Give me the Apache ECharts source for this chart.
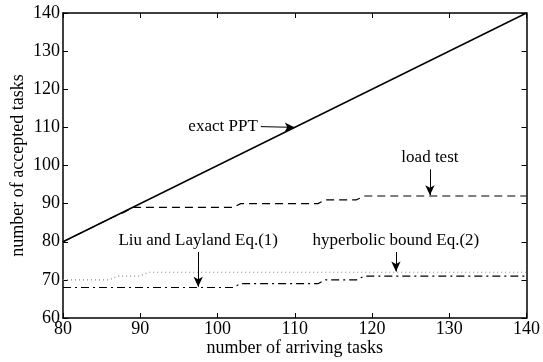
<!DOCTYPE html>
<html>
<head>
<meta charset="utf-8">
<script src="https://cdn.jsdelivr.net/npm/echarts@6/dist/echarts.min.js"></script>
<style>
  html, body { margin: 0; padding: 0; background: #fff; }
  #chart { width: 543px; height: 362px; }
</style>
</head>
<body>
<div id="chart"></div>
<script>
// values (breakpoints of each curve)
const exactX = [80, 140];
const exactY = [80, 140];
const loadX = [80, 87, 88, 89, 102, 103, 113, 114, 118, 119, 140];
const loadY = [80, 87, 87.8, 89, 89, 90, 90, 91, 91, 92, 92];
const hypX = [80, 86, 87, 90, 91, 140];
const hypY = [70, 70, 71, 71, 72, 72];
const liuX = [80, 102, 103, 113, 114, 118, 119, 140];
const liuY = [68, 68, 69, 69, 70, 70, 71, 71];
const xTicks = [80, 90, 100, 110, 120, 130, 140];
const yTicks = [60, 70, 80, 90, 100, 110, 120, 130, 140];

// annotation arrows: [label, fromX, fromY, toX, toY]
const notes = [
  ['exact PPT', 105.6, 110.2, 110, 110],
  ['load test', 127.5, 99.0, 127.5, 92.2],
  ['Liu and Layland Eq.(1)', 97.5, 77.3, 97.5, 68.2],
  ['hyperbolic bound Eq.(2)', 123.1, 77.3, 123.1, 72.2]
];

const font = 'Liberation Serif';
const zip = (xs, ys) => xs.map((x, i) => [x, ys[i]]);

const chart = echarts.init(document.getElementById('chart'));

const mkNote = n => ([
  { coord: [n[1], n[2]], label: { formatter: n[0] } },
  { coord: [n[3], n[4]] }
]);

const noteLine = n => ({
  silent: true, symbol: ['none', 'arrow'], symbolSize: [7, 10],
  lineStyle: { color: '#000', width: 1, type: 'solid' },
  label: { position: 'start', distance: 3, fontFamily: font, fontSize: 17, color: '#000' },
  data: [mkNote(n)]
});

const axisCommon = {
  type: 'value',
  axisLine: { show: true, lineStyle: { color: '#000', width: 1.5 } },
  axisTick: { show: true, inside: true, length: 5, lineStyle: { color: '#000', width: 1 } },
  splitLine: { show: false }
};

chart.setOption({
  animation: false,
  backgroundColor: '#fff',
  grid: { left: 63, right: 13, top: 13, bottom: 40 },
  xAxis: [
    Object.assign({}, axisCommon, {
      min: 80, max: 140, interval: 10,
      name: 'number of arriving tasks',
      nameLocation: 'middle',
      nameGap: 21,
      nameMoveOverlap: false,
      nameTextStyle: { fontFamily: font, fontSize: 18, color: '#000' },
      axisLabel: { fontFamily: font, fontSize: 18, color: '#000', margin: 2,
        formatter: v => xTicks.includes(v) ? String(v) : '' }
    }),
    Object.assign({}, axisCommon, {
      position: 'top', min: 80, max: 140, interval: 10,
      axisLabel: { show: false }
    })
  ],
  yAxis: [
    Object.assign({}, axisCommon, {
      min: 60, max: 140, interval: 10,
      name: 'number of accepted tasks',
      nameLocation: 'middle',
      nameGap: 36,
      nameMoveOverlap: false,
      nameTextStyle: { fontFamily: font, fontSize: 18, color: '#000' },
      axisLabel: { fontFamily: font, fontSize: 18, color: '#000', margin: 3,
        formatter: v => yTicks.includes(v) ? String(v) : '' }
    }),
    Object.assign({}, axisCommon, {
      position: 'right', min: 60, max: 140, interval: 10,
      axisLabel: { show: false }
    })
  ],
  series: [
    {
      name: 'hyperbolic bound', type: 'line', showSymbol: false, silent: true,
      data: zip(hypX, hypY),
      lineStyle: { color: '#8a8a8a', width: 1.2, type: [1, 3] },
      markLine: noteLine(notes[3])
    },
    {
      name: 'Liu and Layland', type: 'line', showSymbol: false, silent: true,
      data: zip(liuX, liuY),
      lineStyle: { color: '#000', width: 1.2, type: [8, 4, 2, 4] },
      markLine: noteLine(notes[2])
    },
    {
      name: 'load test', type: 'line', showSymbol: false, silent: true,
      data: zip(loadX, loadY),
      lineStyle: { color: '#000', width: 1.2, type: [8, 5] },
      markLine: noteLine(notes[1])
    },
    {
      name: 'exact PPT', type: 'line', showSymbol: false, silent: true,
      data: zip(exactX, exactY),
      lineStyle: { color: '#000', width: 1.4, type: 'solid' },
      markLine: noteLine(notes[0])
    }
  ]
});
</script>
</body>
</html>
